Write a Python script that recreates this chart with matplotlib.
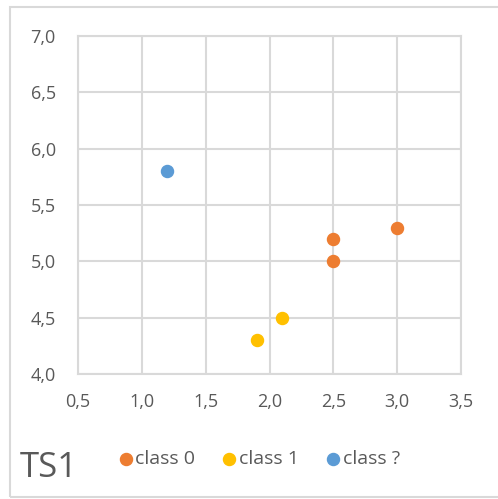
import matplotlib.pyplot as plt
from matplotlib.patches import Rectangle

# data
class0_x = [2.5, 2.5, 3.0]
class0_y = [5.2, 5.0, 5.3]
class1_x = [1.9, 2.1]
class1_y = [4.3, 4.5]
classq_x = [1.2]
classq_y = [5.8]

x_ticks = [0.5, 1.0, 1.5, 2.0, 2.5, 3.0, 3.5]
y_ticks = [4.0, 4.5, 5.0, 5.5, 6.0, 6.5, 7.0]

grey = '#D9D9D9'
txt = '#595959'

plt.rcParams['font.family'] = ['Open Sans', 'DejaVu Sans']

fig = plt.figure(figsize=(4.98, 4.99), dpi=100)

# outer chart frame
fig.patches.append(Rectangle((10 / 498, 2 / 499), 1.2, 1 - 9 / 499, transform=fig.transFigure,
                             fill=False, edgecolor=grey, linewidth=1.5))

ax = fig.add_axes([78 / 498, 125 / 499, 383 / 498, 338 / 499])

ax.scatter(class0_x, class0_y, s=75, color='#ED7D31', label='class 0', zorder=3)
ax.scatter(class1_x, class1_y, s=75, color='#FFC000', label='class 1', zorder=3)
ax.scatter(classq_x, classq_y, s=75, color='#5B9BD5', label='class ?', zorder=3)

ax.set_xlim(0.5, 3.5)
ax.set_ylim(4.0, 7.0)
ax.set_xticks(x_ticks)
ax.set_yticks(y_ticks)
ax.set_xticklabels([f'{v:.1f}'.replace('.', ',') for v in x_ticks])
ax.set_yticklabels([f'{v:.1f}'.replace('.', ',') for v in y_ticks])
ax.tick_params(length=0, labelsize=13, labelcolor=txt)
ax.tick_params(axis='x', pad=14)
ax.tick_params(axis='y', pad=16)
ax.grid(True, color=grey, linewidth=1.5)
ax.set_axisbelow(True)
for s in ax.spines.values():
    s.set_color(grey)
    s.set_linewidth(1.5)

fig.legend(loc='center', bbox_to_anchor=(0.52, 0.08), ncol=3, frameon=False,
           fontsize=14, labelcolor=txt, handlelength=0.8, handletextpad=0.1,
           columnspacing=1.35, markerscale=1.0)

fig.text(20 / 498, 1 - 468 / 499, 'TS1', fontsize=25, color=txt, va='center', ha='left')

fig.savefig('out.png', dpi=100)
